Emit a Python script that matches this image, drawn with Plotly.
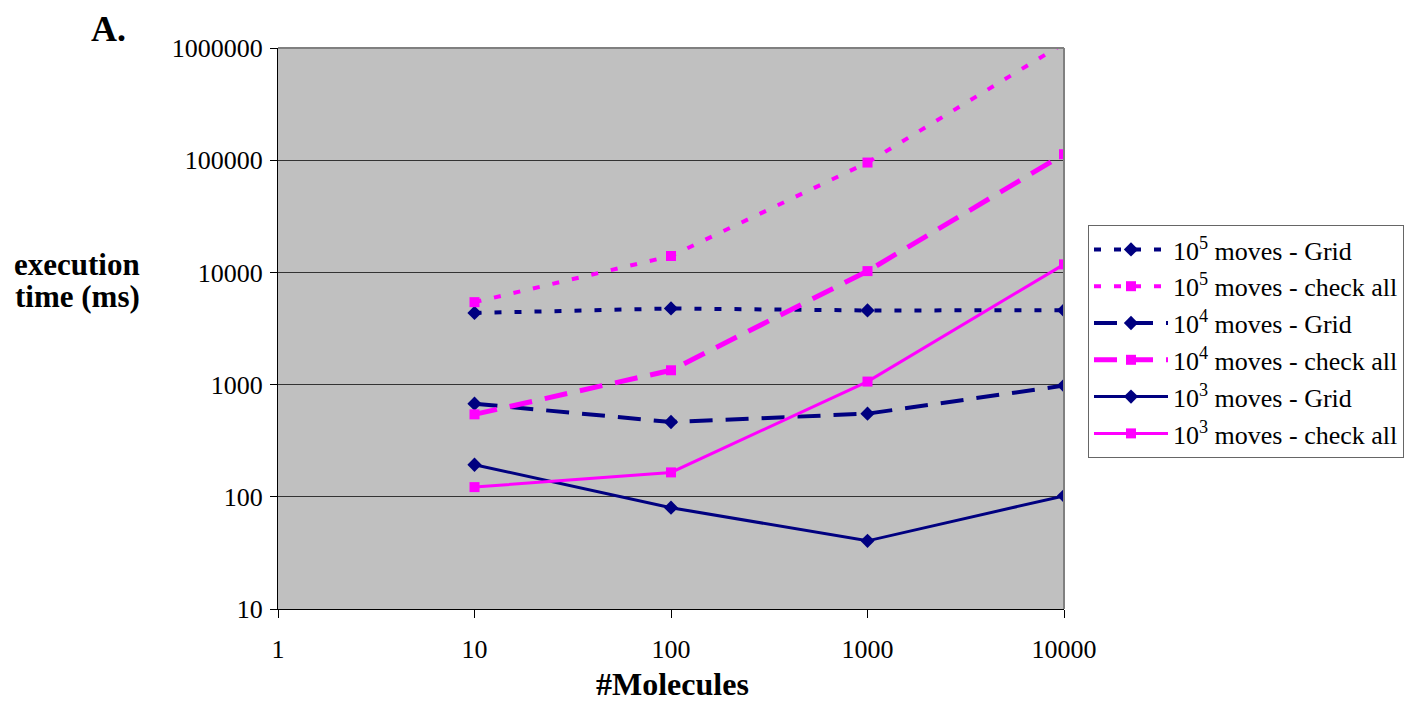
import plotly.graph_objects as go

molecules = [10, 100, 1000, 10000]

grid_1e5 = [4350, 4770, 4580, 4600]
check_1e5 = [5430, 14000, 95300, 1100000]
grid_1e4 = [676, 464, 551, 980]
check_1e4 = [543, 1342, 10270, 113000]
grid_1e3 = [193, 80, 40.5, 102]
check_1e3 = [122, 165, 1064, 11790]

series_names = [
    "10<sup>5</sup> moves - Grid",
    "10<sup>5</sup> moves - check all",
    "10<sup>4</sup> moves - Grid",
    "10<sup>4</sup> moves - check all",
    "10<sup>3</sup> moves - Grid",
    "10<sup>3</sup> moves - check all",
]

y_ticks = [10, 100, 1000, 10000, 100000, 1000000]
x_ticks = [1, 10, 100, 1000, 10000]

NAVY = "#000080"
MAG = "#FF00FF"
FONT = "Times New Roman, Liberation Serif, DejaVu Serif, serif"

styles = [
    (grid_1e5, NAVY, "diamond", 11, 4, "7px,13px"),
    (check_1e5, MAG, "square", 10, 4, "7px,13px"),
    (grid_1e4, NAVY, "diamond", 11, 4, "23px,13px"),
    (check_1e4, MAG, "square", 10, 5, "23px,13px"),
    (grid_1e3, NAVY, "diamond", 11, 3, "solid"),
    (check_1e3, MAG, "square", 10, 3, "solid"),
]

fig = go.Figure()
for i, (vals, col, sym, msize, lw, dash) in enumerate(styles):
    fig.add_trace(go.Scatter(
        x=molecules, y=vals, name=series_names[i], legendgroup=f"g{i}",
        mode="lines+markers",
        line=dict(color=col, width=lw, dash=dash),
        marker=dict(color=col, symbol=sym, size=msize),
        cliponaxis=True,
    ))


def px_x(p):
    return (p - 278) / 786


def px_y(p):
    return 1 - (p - 48) / 561


fig.update_layout(
    width=1410, height=702,
    margin=dict(l=278, r=346, t=48, b=93, autoexpand=False),
    paper_bgcolor="white",
    plot_bgcolor="#C0C0C0",
    font=dict(family=FONT, size=26, color="black"),
    showlegend=True,
    legend=dict(
        xref="container", yref="container",
        x=1088 / 1410, y=1 - 225 / 702, xanchor="left", yanchor="top",
        bgcolor="white", bordercolor="#666666", borderwidth=1,
        font=dict(family=FONT, size=26, color="black"),
        itemwidth=74, tracegroupgap=0,
    ),
    xaxis=dict(
        type="log", range=[0, 4], automargin=False,
        tickmode="array", tickvals=x_ticks, ticktext=[str(v) for v in x_ticks],
        showgrid=False, zeroline=False,
        showline=True, linecolor="black", linewidth=1,
        ticks="outside", ticklen=8, tickcolor="black",
        ticklabelstandoff=9,
        tickfont=dict(family=FONT, size=26),
    ),
    yaxis=dict(
        type="log", range=[1, 6], automargin=False,
        tickmode="array", tickvals=y_ticks, ticktext=[str(v) for v in y_ticks],
        showgrid=True, gridcolor="#333333", gridwidth=1, zeroline=False,
        showline=True, linecolor="black", linewidth=1,
        ticks="outside", ticklen=7, tickcolor="black",
        ticklabelstandoff=2,
        tickfont=dict(family=FONT, size=26),
    ),
    shapes=[
        dict(type="line", xref="paper", yref="paper", x0=0, x1=1, y0=1, y1=1,
             line=dict(color="#808080", width=2)),
        dict(type="line", xref="paper", yref="paper", x0=1, x1=1, y0=0, y1=1,
             line=dict(color="#808080", width=2)),
    ],
    annotations=[
        dict(text="<b>A.</b>", xref="paper", yref="paper", x=px_x(108), y=px_y(29),
             showarrow=False, font=dict(family=FONT, size=36), xanchor="center", yanchor="middle"),
        dict(text="<b>execution</b>", xref="paper", yref="paper",
             x=px_x(77), y=px_y(265),
             showarrow=False, font=dict(family=FONT, size=31), xanchor="center", yanchor="middle"),
        dict(text="<b>time (ms)</b>", xref="paper", yref="paper",
             x=px_x(77), y=px_y(296),
             showarrow=False, font=dict(family=FONT, size=31), xanchor="center", yanchor="middle"),
        dict(text="<b>#Molecules</b>", xref="paper", yref="paper",
             x=px_x(672), y=px_y(684),
             showarrow=False, font=dict(family=FONT, size=32), xanchor="center", yanchor="middle"),
    ],
)

fig.write_html("out.html")
